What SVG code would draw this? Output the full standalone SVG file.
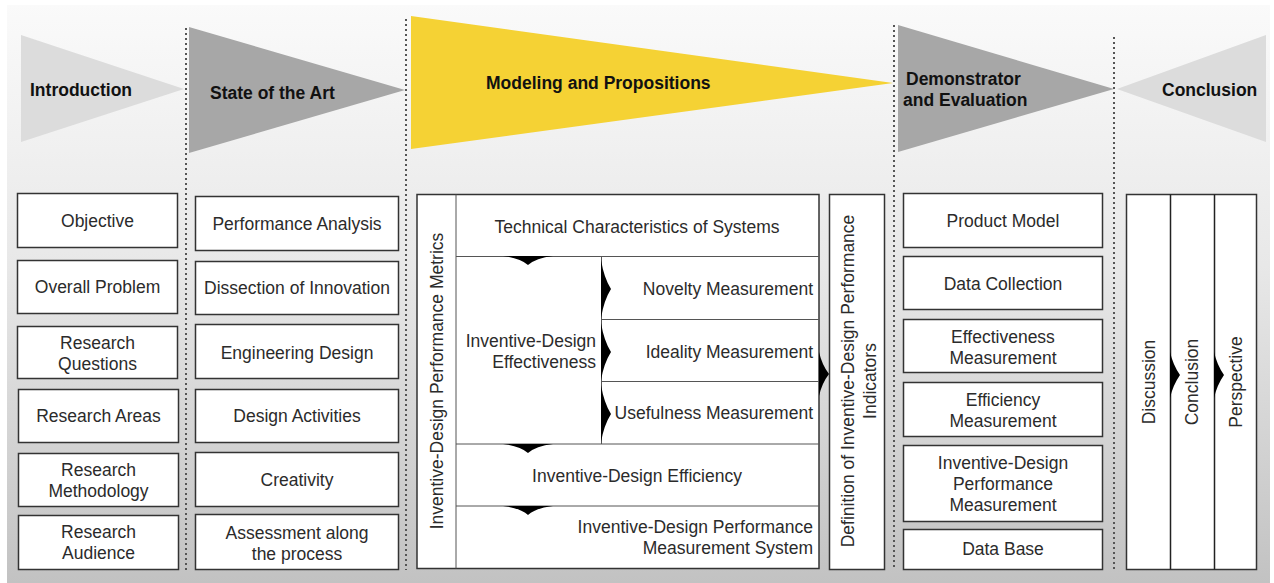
<svg xmlns="http://www.w3.org/2000/svg" width="1274" height="583" viewBox="0 0 1274 583">
<defs>
<linearGradient id="bg" x1="0" y1="0" x2="0" y2="1">
<stop offset="0" stop-color="#fafafa"/>
<stop offset="0.45" stop-color="#e8e8e8"/>
<stop offset="1" stop-color="#c2c2c2"/>
</linearGradient>
<style>
.box{fill:#fff;stroke:#333;stroke-width:1.5}
.ln{stroke:#555;stroke-width:1;fill:none}
.dot{stroke:#555;stroke-width:2;stroke-dasharray:2 3;fill:none}
.t{font-family:"Liberation Sans",Arial,sans-serif;font-size:17.5px;fill:#2b2b2b;text-anchor:middle}
.r{text-anchor:end}
.h{font-family:"Liberation Sans",Arial,sans-serif;font-size:17.5px;font-weight:bold;fill:#111}
.arr{fill:#000}
</style>
</defs>
<rect x="0" y="0" width="1274" height="583" fill="#fff"/>
<rect x="7" y="5" width="1263" height="578" fill="url(#bg)"/>

<g id="phases">
<g id="phase-introduction">
<polygon points="21,35 184,89 21,142" fill="#dcdcdc"/>
<text class="h" x="30" y="96">Introduction</text>
</g>
<g id="phase-state">
<polygon points="189,27 405,90 189,153" fill="#a7a7a7"/>
<text class="h" x="210" y="99">State of the Art</text>
</g>
<g id="phase-modeling">
<polygon points="411,16 893,83 411,149" fill="#f5d234"/>
<text class="h" x="486" y="89">Modeling and Propositions</text>
</g>
<g id="phase-demonstrator">
<polygon points="898,25 1114,89 898,152" fill="#a7a7a7"/>
<text class="h" x="906" y="85">Demonstrator</text>
<text class="h" x="903" y="106">and Evaluation</text>
</g>
<g id="phase-conclusion">
<polygon points="1266,35 1117,89 1266,142" fill="#dcdcdc"/>
<text class="h" x="1162" y="96">Conclusion</text>
</g>
</g>

<g id="separators">
<line class="dot" x1="186" y1="28" x2="186" y2="570"/>
<line class="dot" x1="406" y1="19" x2="406" y2="570"/>
<line class="dot" x1="894" y1="25" x2="894" y2="570"/>
<line class="dot" x1="1114" y1="37" x2="1114" y2="570"/>
</g>

<g id="col-intro">
<g id="objective"><rect class="box" x="17.5" y="193.5" width="160" height="54"/><text class="t" x="97.5" y="227">Objective</text></g>
<g id="overall-problem"><rect class="box" x="17.5" y="260.5" width="160" height="53"/><text class="t" x="97.5" y="293">Overall Problem</text></g>
<g id="research-questions"><rect class="box" x="17.5" y="326.5" width="160" height="52"/><text class="t" x="97.5" y="349">Research</text><text class="t" x="97.5" y="370">Questions</text></g>
<g id="research-areas"><rect class="box" x="18.5" y="389.5" width="160" height="53"/><text class="t" x="98.5" y="422">Research Areas</text></g>
<g id="research-methodology"><rect class="box" x="18.5" y="453.5" width="160" height="53"/><text class="t" x="98.5" y="476">Research</text><text class="t" x="98.5" y="497">Methodology</text></g>
<g id="research-audience"><rect class="box" x="18.5" y="515.5" width="160" height="54"/><text class="t" x="98.5" y="538">Research</text><text class="t" x="98.5" y="559">Audience</text></g>
</g>

<g id="col-state">
<g id="performance-analysis"><rect class="box" x="195.5" y="196.5" width="203" height="54"/><text class="t" x="297" y="230">Performance Analysis</text></g>
<g id="dissection"><rect class="box" x="195.5" y="261.5" width="203" height="53"/><text class="t" x="297" y="294">Dissection of Innovation</text></g>
<g id="engineering-design"><rect class="box" x="195.5" y="324.5" width="203" height="54"/><text class="t" x="297" y="359">Engineering Design</text></g>
<g id="design-activities"><rect class="box" x="195.5" y="389.5" width="203" height="53"/><text class="t" x="297" y="422">Design Activities</text></g>
<g id="creativity"><rect class="box" x="195.5" y="452.5" width="203" height="54"/><text class="t" x="297" y="486">Creativity</text></g>
<g id="assessment"><rect class="box" x="195.5" y="514.5" width="203" height="55"/><text class="t" x="297" y="539">Assessment along</text><text class="t" x="297" y="560">the process</text></g>
</g>

<g id="col-modeling">
<g id="metrics-frame">
<rect x="417" y="194.5" width="402" height="374" fill="#fff" stroke="#333" stroke-width="1.5"/>
<line class="ln" x1="456" y1="194.5" x2="456" y2="568.5" stroke="#333"/>
<text class="t" transform="translate(437,381) rotate(-90)" y="6">Inventive-Design Performance Metrics</text>
</g>
<g id="technical-characteristics">
<line class="ln" x1="456" y1="256.5" x2="819" y2="256.5"/>
<text class="t" x="637" y="233">Technical Characteristics of Systems</text>
</g>
<g id="effectiveness">
<line class="ln" x1="601.5" y1="256.5" x2="601.5" y2="444"/>
<text class="t r" x="596" y="347">Inventive-Design</text>
<text class="t r" x="596" y="368">Effectiveness</text>
</g>
<g id="novelty">
<line class="ln" x1="601.5" y1="319.5" x2="819" y2="319.5"/>
<text class="t r" x="813" y="295">Novelty Measurement</text>
</g>
<g id="ideality">
<line class="ln" x1="601.5" y1="381.5" x2="819" y2="381.5"/>
<text class="t r" x="813" y="358">Ideality Measurement</text>
</g>
<g id="usefulness">
<text class="t r" x="813" y="419">Usefulness Measurement</text>
</g>
<g id="efficiency">
<line class="ln" x1="456" y1="444" x2="819" y2="444"/>
<text class="t" x="637" y="482">Inventive-Design Efficiency</text>
</g>
<g id="measurement-system">
<line class="ln" x1="456" y1="506" x2="819" y2="506"/>
<text class="t r" x="813" y="533">Inventive-Design Performance</text>
<text class="t r" x="813" y="554">Measurement System</text>
</g>
</g>

<g id="indicators">
<rect class="box" x="829.5" y="194.5" width="55" height="375"/>
<text class="t" transform="translate(848,381) rotate(-90)" y="6">Definition of Inventive-Design Performance</text>
<text class="t" transform="translate(870,381) rotate(-90)" y="6">Indicators</text>
</g>

<g id="col-demonstrator">
<g id="product-model"><rect class="box" x="903.5" y="193.5" width="199" height="54"/><text class="t" x="1003" y="227">Product Model</text></g>
<g id="data-collection"><rect class="box" x="903.5" y="256.5" width="199" height="53"/><text class="t" x="1003" y="290">Data Collection</text></g>
<g id="effectiveness-measurement"><rect class="box" x="903.5" y="319.5" width="199" height="53"/><text class="t" x="1003" y="343">Effectiveness</text><text class="t" x="1003" y="364">Measurement</text></g>
<g id="efficiency-measurement"><rect class="box" x="903.5" y="382.5" width="199" height="54"/><text class="t" x="1003" y="406">Efficiency</text><text class="t" x="1003" y="427">Measurement</text></g>
<g id="idpm"><rect class="box" x="903.5" y="445.5" width="199" height="76"/><text class="t" x="1003" y="469">Inventive-Design</text><text class="t" x="1003" y="490">Performance</text><text class="t" x="1003" y="511">Measurement</text></g>
<g id="data-base"><rect class="box" x="903.5" y="529.5" width="199" height="40"/><text class="t" x="1003" y="555">Data Base</text></g>
</g>

<g id="col-conclusion">
<rect class="box" x="1126.5" y="194.5" width="130" height="375"/>
<line x1="1170.5" y1="194.5" x2="1170.5" y2="569.5" stroke="#222" stroke-width="1.5"/>
<line x1="1214.5" y1="194.5" x2="1214.5" y2="569.5" stroke="#222" stroke-width="1.5"/>
<g id="discussion"><text class="t" transform="translate(1149,382) rotate(-90)" y="6">Discussion</text></g>
<g id="conclusion-item"><text class="t" transform="translate(1192,382) rotate(-90)" y="6">Conclusion</text></g>
<g id="perspective"><text class="t" transform="translate(1236,382) rotate(-90)" y="6">Perspective</text></g>
</g>

<g id="connectors">
<path class="arr" d="M503,256 Q520,258 528,265 Q536,258 553,256 Z"/>
<path class="arr" d="M503,444 Q520,446 528,453 Q536,446 553,444 Z"/>
<path class="arr" d="M503,506 Q520,508 528,515 Q536,508 553,506 Z"/>
<path class="arr" d="M601,260 Q604,278 611,289 Q604,300 601,318 Z"/>
<path class="arr" d="M601,323 Q604,341 611,352 Q604,363 601,380 Z"/>
<path class="arr" d="M601,385 Q604,403 611,414 Q604,425 601,442 Z"/>
<path class="arr" d="M819,352 Q822,365 829,374 Q822,383 819,396 Z"/>
<path class="arr" d="M1170,352 Q1173,365 1180,375 Q1173,385 1170,398 Z"/>
<path class="arr" d="M1214,352 Q1217,365 1224,375 Q1217,385 1214,398 Z"/>
</g>
</svg>
